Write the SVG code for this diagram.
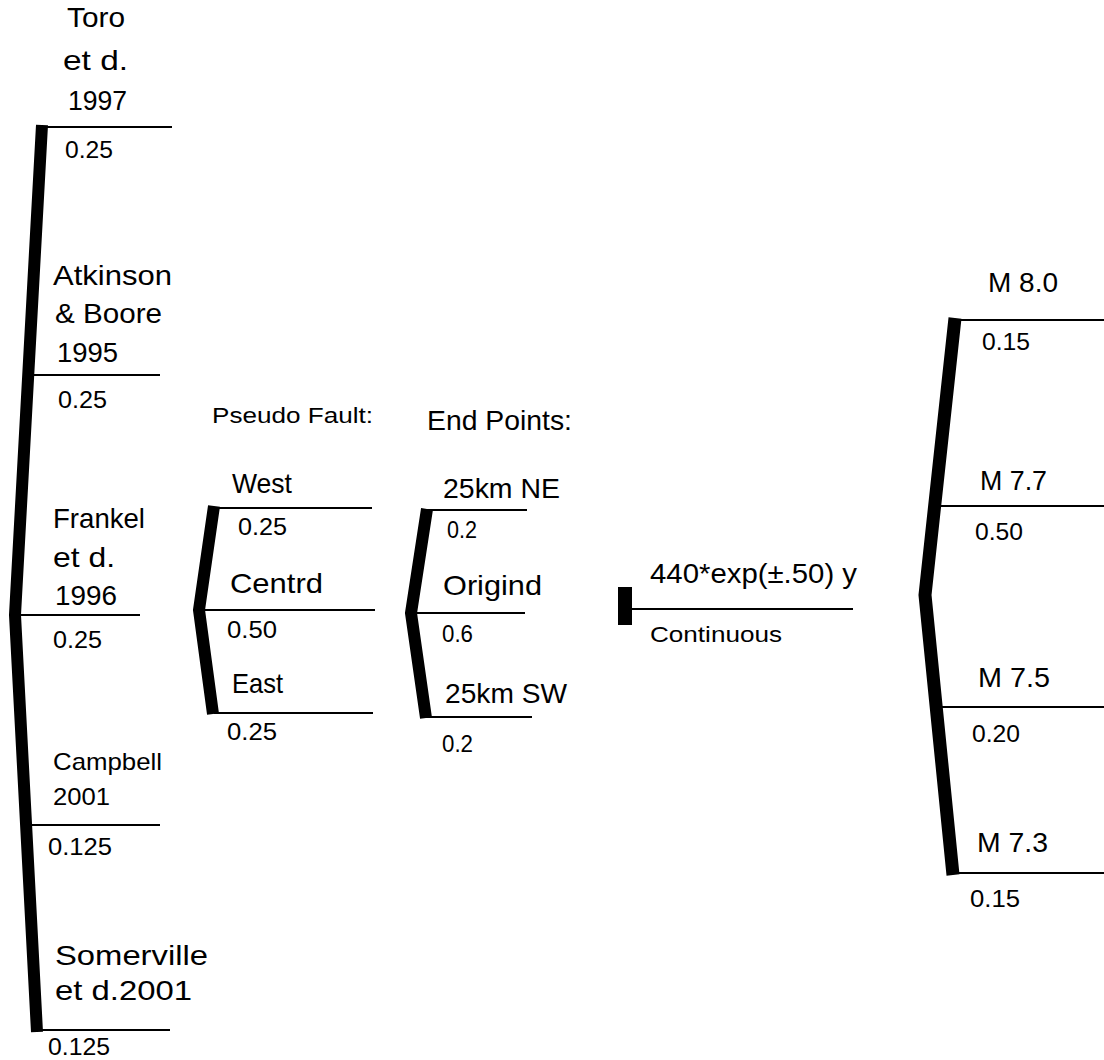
<svg xmlns="http://www.w3.org/2000/svg" width="1104" height="1060" viewBox="0 0 1104 1060">
<style>
text{font-family:"Liberation Sans",Arial,sans-serif;fill:#000}
.lb{font-size:28px}
.w{font-size:24px}
.sm{font-size:22px}
.trunk{fill:none;stroke:#000;stroke-width:12;stroke-linejoin:miter;stroke-linecap:butt}
.br{stroke:#000;stroke-width:2;fill:none}
</style>
<rect width="1104" height="1060" fill="#fff"/>
<g id="connectors">
<polyline class="trunk" points="42,125 15,615 37,1032"/>
<polyline class="trunk" style="stroke-width:12" points="214,506 199,610 213,714"/>
<polyline class="trunk" style="stroke-width:12" points="427,509 411,613 426,718"/>
<polyline class="trunk" style="stroke-width:13" points="955,318 925,595 953,875"/>
<line class="br" x1="40" y1="127" x2="172" y2="127"/>
<line class="br" x1="33" y1="375" x2="160" y2="375"/>
<line class="br" x1="15" y1="615" x2="140" y2="615"/>
<line class="br" x1="28" y1="825" x2="160" y2="825"/>
<line class="br" x1="32" y1="1030" x2="170" y2="1030"/>
<line class="br" x1="214" y1="508" x2="372" y2="508"/>
<line class="br" x1="198" y1="610" x2="375" y2="610"/>
<line class="br" x1="214" y1="713" x2="373" y2="713"/>
<line class="br" x1="426" y1="510" x2="527" y2="510"/>
<line class="br" x1="411" y1="613" x2="525" y2="613"/>
<line class="br" x1="426" y1="717" x2="532" y2="717"/>
<rect x="618" y="587" width="14" height="38" fill="#000"/>
<line class="br" x1="632" y1="609" x2="853" y2="609"/>
<line class="br" x1="950" y1="320" x2="1104" y2="320"/>
<line class="br" x1="935" y1="506" x2="1104" y2="506"/>
<line class="br" x1="940" y1="707" x2="1104" y2="707"/>
<line class="br" x1="947" y1="873" x2="1104" y2="873"/>
</g>
<g id="toro">
<text class="lb" x="67" y="27" textLength="58" lengthAdjust="spacingAndGlyphs">Toro</text>
<text class="lb" x="63" y="70" textLength="65" lengthAdjust="spacingAndGlyphs">et d.</text>
<text class="lb" x="68" y="110" textLength="59" lengthAdjust="spacingAndGlyphs">1997</text>
<text class="w" x="65" y="158" textLength="48" lengthAdjust="spacingAndGlyphs">0.25</text>
</g>
<g id="atkinson">
<text class="lb" x="53" y="285" textLength="119" lengthAdjust="spacingAndGlyphs">Atkinson</text>
<text class="lb" x="55" y="323" textLength="107" lengthAdjust="spacingAndGlyphs">&amp; Boore</text>
<text class="lb" x="57" y="362" textLength="61" lengthAdjust="spacingAndGlyphs">1995</text>
<text class="w" x="58" y="408" textLength="49" lengthAdjust="spacingAndGlyphs">0.25</text>
</g>
<g id="frankel">
<text class="lb" x="53" y="528" textLength="92" lengthAdjust="spacingAndGlyphs">Frankel</text>
<text class="lb" x="53" y="567" textLength="62" lengthAdjust="spacingAndGlyphs">et d.</text>
<text class="lb" x="55" y="605" textLength="62" lengthAdjust="spacingAndGlyphs">1996</text>
<text class="w" x="53" y="648" textLength="49" lengthAdjust="spacingAndGlyphs">0.25</text>
</g>
<g id="campbell">
<text class="w" x="53" y="770" textLength="109" lengthAdjust="spacingAndGlyphs">Campbell</text>
<text class="w" x="53" y="805" textLength="57" lengthAdjust="spacingAndGlyphs">2001</text>
<text class="w" x="48" y="855" textLength="64" lengthAdjust="spacingAndGlyphs">0.125</text>
</g>
<g id="somerville">
<text class="lb" x="55" y="965" textLength="153" lengthAdjust="spacingAndGlyphs">Somerville</text>
<text class="lb" x="55" y="1000" textLength="137" lengthAdjust="spacingAndGlyphs">et d.2001</text>
<text class="w" x="48" y="1055" textLength="62" lengthAdjust="spacingAndGlyphs">0.125</text>
</g>
<g id="pseudo-fault">
<text class="sm" x="212" y="423" textLength="161" lengthAdjust="spacingAndGlyphs">Pseudo Fault:</text>
</g>
<g id="west">
<text class="lb" x="232" y="493" textLength="60" lengthAdjust="spacingAndGlyphs">West</text>
<text class="w" x="238" y="535" textLength="49" lengthAdjust="spacingAndGlyphs">0.25</text>
</g>
<g id="central">
<text class="lb" x="230" y="593" textLength="93" lengthAdjust="spacingAndGlyphs">Centrd</text>
<text class="w" x="227" y="638" textLength="50" lengthAdjust="spacingAndGlyphs">0.50</text>
</g>
<g id="east">
<text class="lb" x="232" y="693" textLength="51" lengthAdjust="spacingAndGlyphs">East</text>
<text class="w" x="227" y="740" textLength="50" lengthAdjust="spacingAndGlyphs">0.25</text>
</g>
<g id="end-points">
<text class="lb" x="427" y="430" textLength="145" lengthAdjust="spacingAndGlyphs">End Points:</text>
</g>
<g id="ne">
<text class="lb" x="443" y="498" textLength="117" lengthAdjust="spacingAndGlyphs">25km NE</text>
<text class="w" x="447" y="538" textLength="30" lengthAdjust="spacingAndGlyphs">0.2</text>
</g>
<g id="original">
<text class="lb" x="443" y="595" textLength="99" lengthAdjust="spacingAndGlyphs">Origind</text>
<text class="w" x="442" y="642" textLength="31" lengthAdjust="spacingAndGlyphs">0.6</text>
</g>
<g id="sw">
<text class="lb" x="445" y="703" textLength="122" lengthAdjust="spacingAndGlyphs">25km SW</text>
<text class="w" x="442" y="752" textLength="31" lengthAdjust="spacingAndGlyphs">0.2</text>
</g>
<g id="continuous">
<text class="lb" x="650" y="583" textLength="207" lengthAdjust="spacingAndGlyphs">440*exp(±.50) y</text>
<text class="sm" x="650" y="642" textLength="132" lengthAdjust="spacingAndGlyphs">Continuous</text>
</g>
<g id="m80">
<text class="lb" x="988" y="292" textLength="70" lengthAdjust="spacingAndGlyphs">M 8.0</text>
<text class="w" x="982" y="350" textLength="48" lengthAdjust="spacingAndGlyphs">0.15</text>
</g>
<g id="m77">
<text class="lb" x="980" y="490" textLength="67" lengthAdjust="spacingAndGlyphs">M 7.7</text>
<text class="w" x="975" y="540" textLength="48" lengthAdjust="spacingAndGlyphs">0.50</text>
</g>
<g id="m75">
<text class="lb" x="978" y="687" textLength="72" lengthAdjust="spacingAndGlyphs">M 7.5</text>
<text class="w" x="972" y="742" textLength="48" lengthAdjust="spacingAndGlyphs">0.20</text>
</g>
<g id="m73">
<text class="lb" x="977" y="852" textLength="71" lengthAdjust="spacingAndGlyphs">M 7.3</text>
<text class="w" x="970" y="907" textLength="50" lengthAdjust="spacingAndGlyphs">0.15</text>
</g>
</svg>
